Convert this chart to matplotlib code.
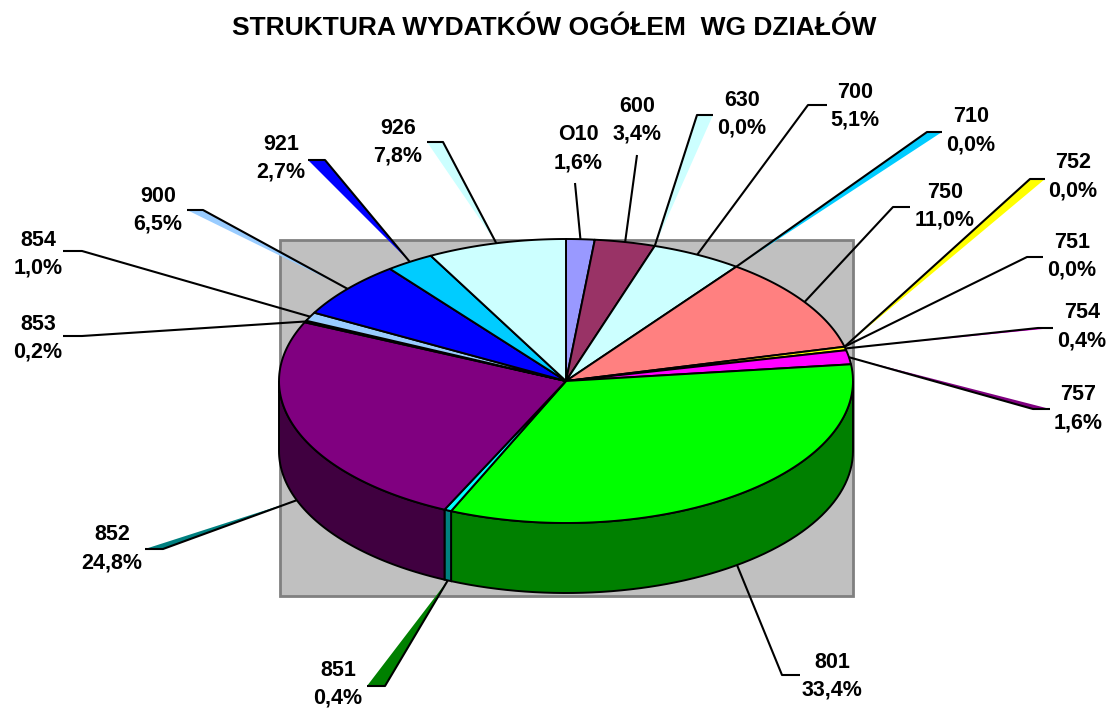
import numpy as np
import matplotlib.pyplot as plt
from matplotlib.patches import Polygon, Rectangle
from matplotlib.colors import to_rgb

# data: departments (działy) and their share of total spending, %
codes = ['O10', '600', '630', '700', '710', '750', '752', '751', '754',
         '757', '801', '851', '852', '853', '854', '900', '921', '926']
shares = [1.6, 3.4, 0.0, 5.1, 0.0, 11.0, 0.0, 0.0, 0.4,
          1.6, 33.4, 0.4, 24.8, 0.2, 1.0, 6.5, 2.7, 7.8]
colors = ['#9999FF', '#993366', '#CCFFFF', '#CCFFFF', '#00CCFF', '#FF8080',
          '#FFFF00', '#FFFFFF', '#FFFF00', '#FF00FF', '#00FF00', '#00FFFF',
          '#800080', '#99CCFF', '#99CCFF', '#0000FF', '#00CCFF', '#CCFFFF']

# label layout (pixels): text centre of first line, stub outer end, bend point, tail colour
label_layout = {
    'O10': ((578, 135), (575, 183), (575, 183), None),
    '600': ((637, 106), (637, 155), (637, 155), None),
    '630': ((742, 100), (713, 115), (697, 115), '#CCFFFF'),
    '700': ((855, 92), (827, 105), (808, 105), None),
    '710': ((971, 117), (942, 132), (927, 132), '#00CCFF'),
    '750': ((945, 192), (910, 207), (893, 207), None),
    '752': ((1073, 163), (1045, 179), (1030, 179), '#FFFF00'),
    '751': ((1072, 242), (1043, 257), (1027, 257), None),
    '754': ((1082, 313), (1053, 328), (1038, 328), '#FF00FF'),
    '757': ((1078, 395), (1050, 409), (1033, 409), '#800080'),
    '801': ((832, 662), (800, 675), (782, 675), None),
    '851': ((338, 670), (367, 686), (385, 686), '#008000'),
    '852': ((112, 535), (145, 549), (163, 549), '#008080'),
    '853': ((38, 324), (63, 336), (82, 336), None),
    '854': ((38, 240), (63, 251), (82, 251), None),
    '900': ((158, 196), (187, 210), (203, 210), '#99CCFF'),
    '921': ((281, 144), (308, 160), (325, 160), '#0000FF'),
    '926': ((398, 128), (427, 142), (443, 142), '#CCFFFF'),
}

cx, cy, rx, ry, depth = 566, 381, 287, 142, 70

fig = plt.figure(figsize=(11.08, 7.10), dpi=100)
ax = fig.add_axes([0, 0, 1, 1])
ax.set_xlim(0, 1108)
ax.set_ylim(710, 0)
ax.axis('off')

# gray plot area
ax.add_patch(Rectangle((280, 240), 573, 356, facecolor='#C0C0C0',
                       edgecolor='#808080', lw=2, zorder=1))


def ell(theta, dy=0):
    return cx + rx * np.sin(theta), cy - ry * np.cos(theta) + dy


bounds = np.concatenate([[0], np.cumsum(shares)]) / sum(shares) * 2 * np.pi

# side faces (front half only)
for i, col in enumerate(colors):
    a, b = max(bounds[i], np.pi / 2), min(bounds[i + 1], 3 * np.pi / 2)
    if b <= a:
        continue
    t = np.linspace(a, b, 60)
    xs, ys = ell(t)
    xb, yb = ell(t[::-1], depth)
    pts = np.column_stack([np.concatenate([xs, xb]), np.concatenate([ys, yb])])
    dark = tuple(c * 0.5 for c in to_rgb(col))
    ax.add_patch(Polygon(pts, closed=True, facecolor=dark, edgecolor='black',
                         lw=1.4, zorder=2))

# top face
for i, col in enumerate(colors):
    if shares[i] == 0:
        continue
    t = np.linspace(bounds[i], bounds[i + 1], 80)
    xs, ys = ell(t)
    pts = np.column_stack([np.concatenate([[cx], xs]), np.concatenate([[cy], ys])])
    ax.add_patch(Polygon(pts, closed=True, facecolor=col, edgecolor='black',
                         lw=1.4, zorder=3, joinstyle='round'))

# leader lines and labels
for i, code in enumerate(codes):
    mid = (bounds[i] + bounds[i + 1]) / 2
    front = np.cos(mid) < 0
    ax_, ay_ = ell(mid, depth if front else 0)
    (tx, ty), stub, bend, tail = label_layout[code]
    if tail is not None:
        ax.add_patch(Polygon([stub, bend, (ax_, ay_)], closed=True,
                             facecolor=tail, edgecolor='none', zorder=4))
    ax.plot([stub[0], bend[0], ax_], [stub[1], bend[1], ay_], color='black',
            lw=1.5, zorder=5, solid_capstyle='butt')
    pct = f'{shares[i]:.1f}%'.replace('.', ',')
    ax.text(tx, ty, code, ha='center', va='center', fontsize=15.5,
            fontweight='bold', family='Liberation Sans', zorder=6)
    ax.text(tx, ty + 28, pct, ha='center', va='center', fontsize=15.5,
            fontweight='bold', family='Liberation Sans', zorder=6)

ax.text(554, 28, 'STRUKTURA WYDATKÓW OGÓŁEM  WG DZIAŁÓW', ha='center',
        va='center', fontsize=19, fontweight='bold', family='Liberation Sans')

fig.savefig('out.png', dpi=100)
